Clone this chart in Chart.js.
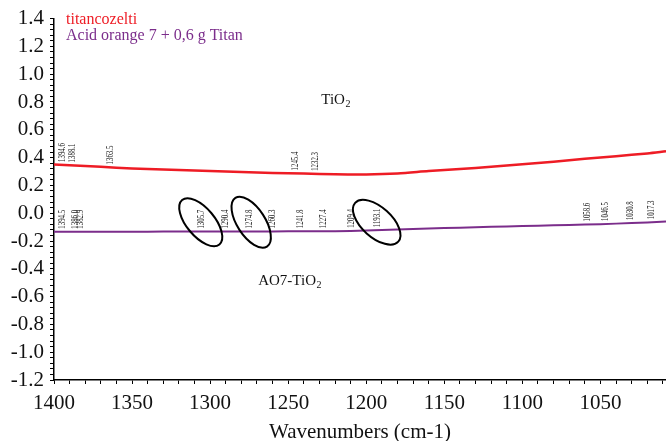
<!DOCTYPE html>
<html>
<head>
<meta charset="utf-8">
<script src="https://cdn.jsdelivr.net/npm/chart.js@4/dist/chart.umd.min.js"></script>
<style>
html,body{margin:0;padding:0;background:#fff;}
#wrap{width:666px;height:441px;}
</style>
</head>
<body>
<div id="wrap"><canvas id="c" width="666" height="441"></canvas></div>
<script>
// ---- data ----
const wavenumbers = [1400,1380,1360,1340,1320,1300,1280,1260,1240,1220,1200,1180,1160,1140,1120,1100,1080,1060,1040,1020,1008];
const titanValues = [0.35,0.34,0.327,0.318,0.31,0.304,0.297,0.29,0.285,0.28,0.279,0.286,0.303,0.318,0.334,0.353,0.371,0.391,0.41,0.43,0.445];
const ao7Values   = [-0.133,-0.133,-0.133,-0.133,-0.132,-0.132,-0.131,-0.131,-0.130,-0.129,-0.125,-0.118,-0.110,-0.104,-0.098,-0.092,-0.087,-0.082,-0.075,-0.067,-0.060];
const titanPeaks  = [1394.6,1388.1,1363.5,1245.4,1232.3];
const ao7Peaks    = [1394.5,1386.0,1382.9,1305.7,1290.4,1274.8,1260.3,1241.8,1227.4,1209.4,1193.1,1058.6,1046.5,1030.8,1017.3];
const seriesNames = ['titancozelti','Acid orange 7 + 0,6 g Titan'];
const xTickLabels = [1400,1350,1300,1250,1200,1150,1100,1050];
const yTickLabels = [1.4,1.2,1.0,0.8,0.6,0.4,0.2,0.0,-0.2,-0.4,-0.6,-0.8,-1.0,-1.2];

const RED = '#ee1c25';
const PURPLE = '#7b2d8b';
const SERIF = '"Liberation Serif","DejaVu Serif",serif';

function toPts(xs, ys){ return xs.map((x,i)=>({x:x,y:ys[i]})); }
function interp(xs, ys, x){
  for(let i=0;i<xs.length-1;i++){
    const a=xs[i], b=xs[i+1];
    if((x<=a && x>=b)||(x>=a && x<=b)){
      const t=(x-a)/(b-a); return ys[i]+t*(ys[i+1]-ys[i]);
    }
  }
  return ys[ys.length-1];
}
function near(v, list){ return list.some(l=>Math.abs(l-v)<1e-6); }

const annot = {
  id:'annot',
  afterDatasetsDraw(chart){
    const ctx=chart.ctx, xs=chart.scales.x, ys=chart.scales.y, ca=chart.chartArea;
    // peak labels
    function peaks(list, vals){
      ctx.save();
      ctx.fillStyle='#222';
      ctx.font='9.5px '+SERIF;
      list.forEach(p=>{
        const px=xs.getPixelForValue(p);
        const py=ys.getPixelForValue(interp(wavenumbers, vals, p));
        ctx.save();
        ctx.translate(px, py-3);
        ctx.rotate(-Math.PI/2);
        ctx.scale(0.72,1);
        ctx.textAlign='left'; ctx.textBaseline='middle';
        ctx.fillText(p.toFixed(1),0,0);
        ctx.restore();
      });
      ctx.restore();
    }
    peaks(titanPeaks, titanValues);
    peaks(ao7Peaks, ao7Values);
    // ellipses
    const ells=[[1306,-0.065,29,14,50],[1273.7,-0.065,29,14,57],[1193.3,-0.065,29,15,42]];
    ctx.save();
    ctx.strokeStyle='#000'; ctx.lineWidth=2;
    ells.forEach(e=>{
      ctx.beginPath();
      ctx.ellipse(xs.getPixelForValue(e[0]), ys.getPixelForValue(e[1]), e[2], e[3], e[4]*Math.PI/180, 0, Math.PI*2);
      ctx.stroke();
    });
    ctx.restore();
    // TiO2 labels
    function chem(prefix, wx, wy){
      const x=xs.getPixelForValue(wx), y=ys.getPixelForValue(wy);
      ctx.save();
      ctx.fillStyle='#111';
      ctx.textAlign='left'; ctx.textBaseline='alphabetic';
      ctx.font='15px '+SERIF;
      ctx.fillText(prefix, x, y);
      const w=ctx.measureText(prefix).width;
      ctx.font='10px '+SERIF;
      ctx.fillText('2', x+w+0.5, y+3);
      ctx.restore();
    }
    chem('TiO', 1228.8, 0.788);
    chem('AO7-TiO', 1269.2, -0.514);
    // legend text
    ctx.save();
    ctx.font='16px '+SERIF;
    ctx.textAlign='left'; ctx.textBaseline='alphabetic';
    ctx.fillStyle=RED; ctx.fillText(seriesNames[0], ca.left+12, 24);
    ctx.fillStyle=PURPLE; ctx.fillText(seriesNames[1], ca.left+12, 40);
    ctx.restore();
  }
};

new Chart(document.getElementById('c'), {
  type:'line',
  data:{
    datasets:[
      {label:seriesNames[0], data:toPts(wavenumbers,titanValues), borderColor:RED, borderWidth:2.5, pointRadius:0, tension:0.3, fill:false},
      {label:seriesNames[1], data:toPts(wavenumbers,ao7Values), borderColor:PURPLE, borderWidth:2, pointRadius:0, tension:0.3, fill:false}
    ]
  },
  plugins:[annot],
  options:{
    responsive:false,
    animation:false,
    layout:{padding:{top:18,right:0,left:0,bottom:0}},
    plugins:{legend:{display:false}, tooltip:{enabled:false}},
    scales:{
      x:{
        type:'linear', reverse:true, min:1008, max:1400,
        afterFit(s){ s.height=61; s.paddingRight=0; s.paddingLeft=0; },
        border:{display:true,color:'#000',width:1.5},
        grid:{drawOnChartArea:false, drawTicks:true, tickLength:4, color:'#000'},
        ticks:{stepSize:10, includeBounds:false, autoSkip:false, maxRotation:0, padding:7, color:'#111',
          font:{family:SERIF,size:21},
          callback:(v)=> near(v,xTickLabels)? String(v) : ''},
        title:{display:true, text:'Wavenumbers (cm-1)', color:'#111', font:{family:SERIF,size:21}, padding:{top:0,bottom:-4}}
      },
      y:{
        type:'linear', min:-1.2, max:1.4,
        afterFit(s){ s.width=54; },
        border:{display:true,color:'#000',width:1.5},
        grid:{drawOnChartArea:false, drawTicks:true, tickLength:4, color:'#000'},
        ticks:{stepSize:0.04, includeBounds:false, autoSkip:false, padding:6, color:'#111',
          font:{family:SERIF,size:21},
          callback:(v)=>{ const r=Math.round(v*10)/10; if(Math.abs(v-r)<1e-6 && near(r,yTickLabels)) return (Math.abs(r)<1e-9?0:r).toFixed(1); return ''; }}
      }
    }
  }
});
</script>
</body>
</html>
